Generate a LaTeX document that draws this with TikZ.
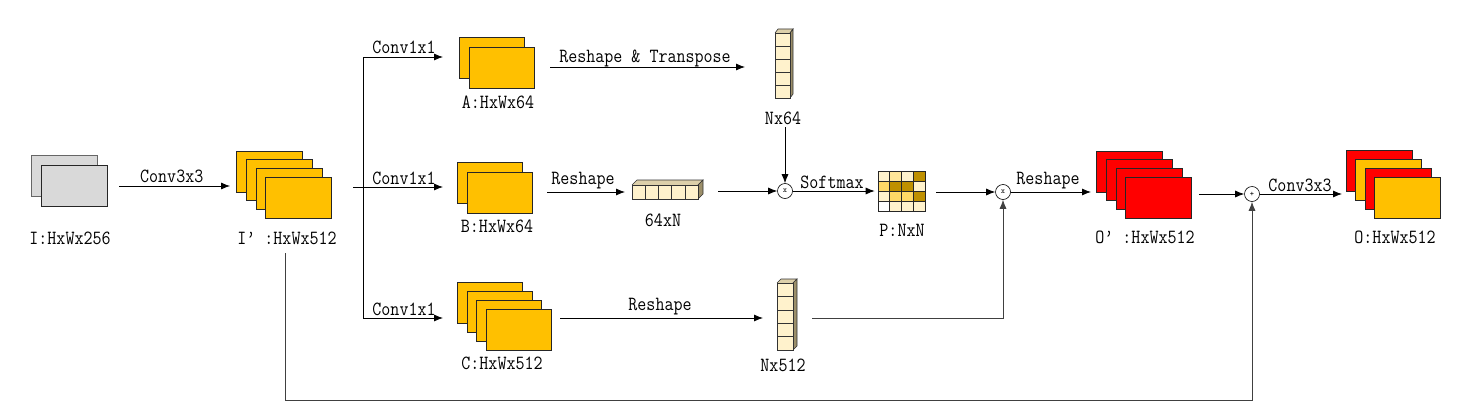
\documentclass[tikz,border=0pt]{standalone}
\usepackage{fontspec}
\usepackage{graphicx}
\usetikzlibrary{arrows.meta,calc}
\definecolor{gold}{HTML}{FFC000}
\definecolor{lgrey}{HTML}{D9D9D9}
\definecolor{cream}{HTML}{FFF2CC}
\definecolor{creamB}{HTML}{FFE699}
\definecolor{goldL}{HTML}{FFD966}
\definecolor{goldD}{HTML}{BF9000}
\definecolor{topc}{HTML}{DDD0AA}
\definecolor{sidec}{HTML}{9C8F6A}
\newcommand\tx[1]{\scalebox{1}[1.15]{#1}}
\begin{document}
\begin{tikzpicture}[x=1pt,y=-1pt,
  fm/.style={draw=black!85, line width=0.8pt, minimum width=66pt, minimum height=41pt, inner sep=0pt},
  lbl/.style={font=\ttfamily\fontsize{17.5}{18}\selectfont, inner sep=0pt},
  arr/.style={-{Latex[length=9pt,width=7pt]}, line width=0.8pt},
  ln/.style={line width=0.8pt},
  op/.style={draw, circle, minimum size=15pt, inner sep=0pt, line width=0.6pt, font=\ttfamily\fontsize{8}{8}\selectfont},
  colbox/.style={draw=black!80, fill=cream, line width=0.6pt, inner sep=0pt},
  face/.style={draw=black!80, line width=0.6pt}]
\useasboundingbox (0,0) rectangle (1463,412);

% ---- input I ----
\node[fm, fill=lgrey, draw=black!60] (I1) at (64,176) {};
\node[fm, fill=lgrey] (I2) at (74,186) {};
\node[lbl] (IL) at (70,238) {\tx{I:HxWx256}};

% ---- I' ----
\foreach \i in {0,...,3}
  \node[fm, fill=gold] (Ip\i) at ({269.5+9.7*\i},{171.5+8.7*\i}) {};
\node[lbl] (IpL) at (287,238) {\tx{I’ :HxWx512}};

\draw[arr, shorten <=12pt, shorten >=6pt] (I2.east) -- (I2.east -| Ip0.west)
  node[lbl, midway, above=3pt] {\tx{Conv3x3}};

% ---- split ----
\coordinate (splitS) at (353,187);
\coordinate (split) at (363,187);
\coordinate (ain) at (443,57);
\coordinate (bin) at (443,187);
\coordinate (cin) at (443,318);
\draw[ln] (splitS) -- (split);
\draw[arr] (split) |- (ain);
\draw[arr] (split) -- (bin);
\draw[arr] (split) |- (cin);
\node[lbl] (cv1) at (404,47) {\tx{Conv1x1}};
\node[lbl] (cv2) at (404,178) {\tx{Conv1x1}};
\node[lbl] (cv3) at (404,309) {\tx{Conv1x1}};

% ---- A ----
\node[fm, fill=gold, minimum width=65pt] (A1) at (491.5,57.5) {};
\node[fm, fill=gold, minimum width=65pt] (A2) at (501.5,67.5) {};
\node[lbl] (AL) at (498,102) {\tx{A:HxWx64}};
\coordinate (a1) at (550,67);
\coordinate (a2) at (745,67);
\draw[arr] (a1) -- (a2);
\node[lbl] (rtL) at (645,58) {\tx{Reshape \& Transpose}};

% ---- Nx64 column ----
\fill[topc] (775,33) -- (778,29) -- (793,29) -- (790,33) -- cycle;
\draw[face] (775,33) -- (778,29) -- (793,29) -- (790,33);
\filldraw[face, fill=sidec] (790,33) -- (793,29) -- (793,94) -- (790,98) -- cycle;
\node[colbox, minimum width=15pt, minimum height=65pt] (N64) at (782.5,65.5) {};
\foreach \k in {1,...,4} \draw[face] (775,{33+13*\k}) -- (790,{33+13*\k});
\node[lbl] (N64L) at (783,118) {\tx{Nx64}};
\coordinate (n64s) at (785,127);

% ---- B ----
\node[fm, fill=gold, minimum width=65pt] (B1) at (490,182.5) {};
\node[fm, fill=gold, minimum width=65pt] (B2) at (499.5,192.5) {};
\node[lbl] (BL) at (497,226) {\tx{B:HxWx64}};
\coordinate (b1) at (547,192);
\coordinate (b2) at (625,192);
\draw[arr] (b1) -- (b2);
\node[lbl] (rbL) at (583,181) {\tx{Reshape}};

% ---- 64xN bar ----
\fill[topc] (632,185) -- (637,180) -- (703,180) -- (698,185) -- cycle;
\draw[face] (632,185) -- (637,180) -- (703,180) -- (698,185);
\filldraw[face, fill=sidec] (698,185) -- (703,180) -- (703,194) -- (698,199) -- cycle;
\node[colbox, minimum width=66pt, minimum height=14pt] (K) at (665,192) {};
\foreach \k in {1,...,4} \draw[face] ({632+13.2*\k},185) -- ({632+13.2*\k},199);
\node[lbl] (KL) at (663,220) {\tx{64xN}};
\coordinate (k1) at (718,191);

% ---- first product ----
\node[op] (op1) at (785,191) {x};
\draw[arr] (n64s) -- (op1.north);
\draw[arr] (k1) -- (op1.west);

% ---- P grid ----
\def\cw{11.75}
\def\ch{10}
\foreach \cc [count=\n from 0] in {cream,creamB,cream,goldD,goldL,goldD,goldD,cream,cream,goldL,goldL,goldD,white,cream,cream,cream}{
  \pgfmathtruncatemacro\rr{int(\n/4)}
  \pgfmathtruncatemacro\ccol{mod(\n,4)}
  \filldraw[fill=\cc, draw=black!85, line width=0.6pt] ({878+\cw*\ccol},{171+\ch*\rr}) rectangle ++(\cw,\ch);
}
\node[draw=black!85, line width=0.6pt, minimum width=47pt, minimum height=40pt, inner sep=0pt] (P) at (901.5,191) {};
\node[lbl] (PL) at (902,230) {\tx{P:NxN}};
\draw[arr, shorten >=3pt] (op1.east) -- (op1.east -| P.west);
\node[lbl] (smL) at (832,182) {\tx{Softmax}};

% ---- second product ----
\node[op] (op2) at (1003,192) {x};
\coordinate (p1) at (936,192);
\draw[arr] (p1) -- (op2.west);

% ---- O' ----
\foreach \i in {0,...,3}
  \node[fm, fill=red] (Op\i) at ({1129.5+9.7*\i},{171.5+8.8*\i}) {};
\node[lbl] (OpL) at (1145,237) {\tx{O’ :HxWx512}};
\coordinate (o1) at (1091,192);
\draw[arr] (op2.east) -- (o1);
\node[lbl] (roL) at (1048,181) {\tx{Reshape}};

% ---- sum ----
\node[op] (op3) at (1252,194) {+};
\coordinate (o2) at (1199,194);
\draw[arr] (o2) -- (op3.west);
\coordinate (o3) at (1342,194);
\draw[arr] (op3.east) -- (o3);
\node[lbl] (c33L) at (1300,185) {\tx{Conv3x3}};

% ---- O ----
\foreach \i/\cl in {0/red,1/gold,2/red,3/gold}
  \node[fm, fill=\cl] (O\i) at ({1379+9.5*\i},{171+9*\i}) {};
\node[lbl] (OL) at (1395,237) {\tx{O:HxWx512}};

% ---- C ----
\foreach \i in {0,...,3}
  \node[fm, fill=gold, minimum width=65pt] (C\i) at ({490+9.5*\i},{302.5+9*\i}) {};
\node[lbl] (CL) at (502,363) {\tx{C:HxWx512}};
\coordinate (c1) at (560,318);
\coordinate (c2) at (763,318);
\draw[arr] (c1) -- (c2);
\node[lbl] (rcL) at (660,307) {\tx{Reshape}};

% ---- Nx512 column ----
\fill[topc] (777,283) -- (781,279) -- (797,279) -- (793,283) -- cycle;
\draw[face] (777,283) -- (781,279) -- (797,279) -- (793,283);
\filldraw[face, fill=sidec] (793,283) -- (797,279) -- (797,346) -- (793,350) -- cycle;
\node[colbox, minimum width=16pt, minimum height=67pt] (N512) at (785,316.5) {};
\foreach \k in {1,...,4} \draw[face] (777,{283+13.4*\k}) -- (793,{283+13.4*\k});
\node[lbl] (N512L) at (783,365) {\tx{Nx512}};
\coordinate (n5) at (812,318);
\draw[arr, draw=black!75] (n5) -| (op2.south);

% ---- skip connection ----
\coordinate (sk) at (285,253);
\draw[arr, draw=black!75] (sk) -- (285,400) -| (op3.south);
\end{tikzpicture}
\end{document}
